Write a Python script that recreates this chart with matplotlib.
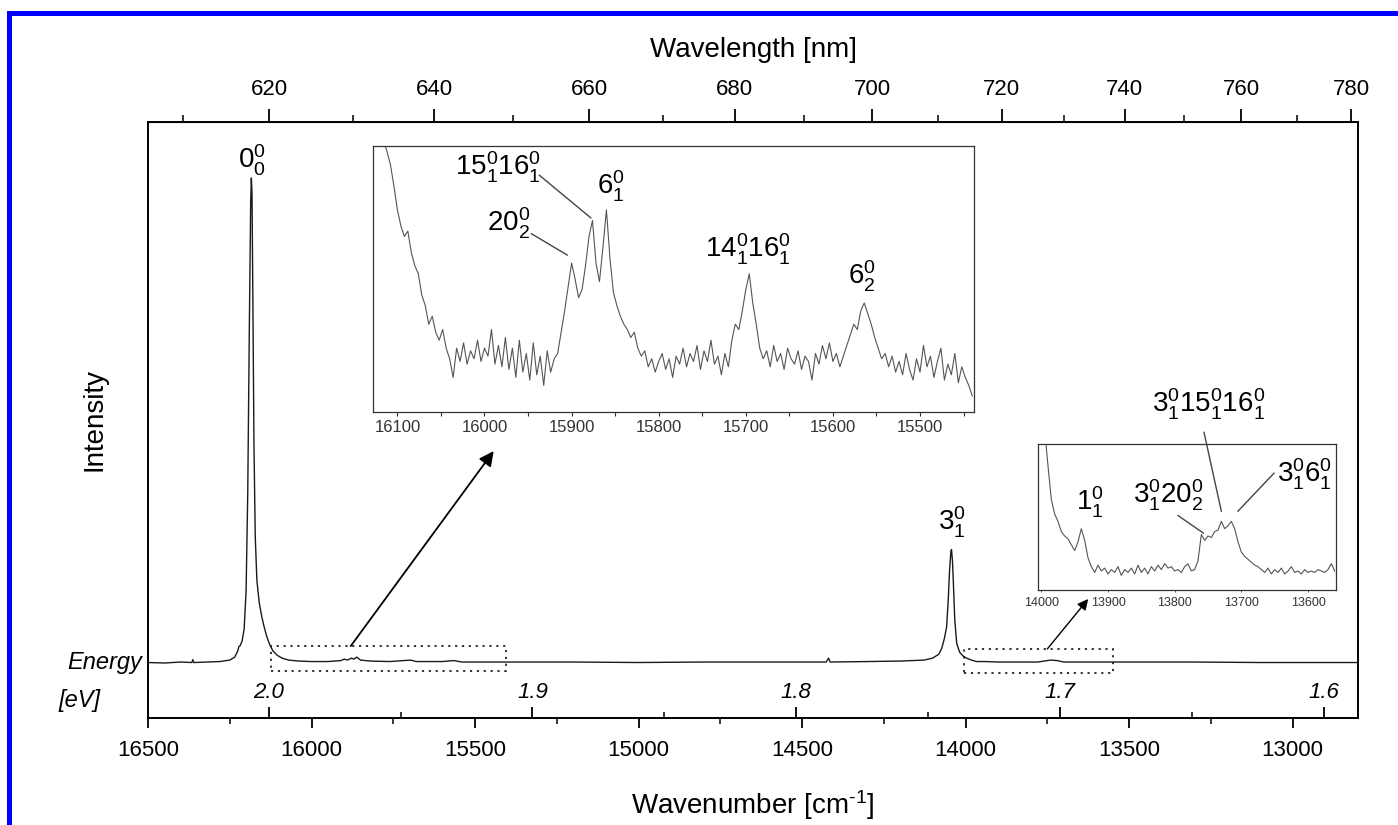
import numpy as np
import matplotlib
matplotlib.use("Agg")
import matplotlib.pyplot as plt
from matplotlib.patches import Rectangle
from matplotlib.ticker import MultipleLocator, FixedLocator

plt.rcParams['font.family'] = ['Liberation Sans', 'DejaVu Sans']
plt.rcParams['mathtext.fontset'] = 'custom'
plt.rcParams['mathtext.rm'] = 'Liberation Sans'
plt.rcParams['mathtext.it'] = 'Liberation Sans:italic'
plt.rcParams['mathtext.default'] = 'regular'

# ---------------- data ----------------
# main spectrum (wavenumber cm-1, intensity normalised to origin band)
main_nu = [16500, 16450, 16400, 16366, 16363, 16360, 16320, 16280, 16250, 16235,
           16226, 16222, 16218, 16212, 16206, 16200, 16195, 16190, 16186, 16184,
           16182, 16179, 16176, 16172, 16167, 16160, 16152, 16145, 16137, 16128,
           16118, 16105, 16090, 16070, 16040, 16000, 15950, 15910, 15900, 15890,
           15878, 15870, 15862, 15850, 15820, 15760, 15697, 15680, 15600, 15565,
           15540, 15400, 15200, 15000, 14800, 14600, 14426, 14419, 14414, 14300,
           14200, 14127, 14101, 14082, 14073, 14065, 14058, 14053, 14049, 14045,
           14043, 14040, 14037, 14033, 14027, 14018, 14007, 13997, 13982, 13966,
           13940, 13900, 13780, 13760, 13740, 13720, 13700, 13500, 13300, 13100,
           12900, 12800]
main_int = [0.001, 0.000, 0.002, 0.001, 0.007, 0.001, 0.002, 0.003, 0.006, 0.012,
            0.024, 0.034, 0.036, 0.046, 0.070, 0.150, 0.350, 0.700, 0.950, 1.000,
            0.970, 0.720, 0.450, 0.260, 0.170, 0.125, 0.095, 0.075, 0.055, 0.038,
            0.025, 0.016, 0.010, 0.006, 0.004, 0.003, 0.003, 0.005, 0.008, 0.006,
            0.010, 0.008, 0.012, 0.006, 0.004, 0.003, 0.006, 0.003, 0.003, 0.005,
            0.002, 0.002, 0.002, 0.001, 0.002, 0.002, 0.002, 0.010, 0.002, 0.003,
            0.004, 0.006, 0.010, 0.018, 0.030, 0.050, 0.074, 0.130, 0.190, 0.230,
            0.234, 0.210, 0.160, 0.089, 0.040, 0.022, 0.014, 0.010, 0.006, 0.003,
            0.003, 0.002, 0.002, 0.004, 0.006, 0.005, 0.002, 0.002, 0.002, 0.001,
            0.001, 0.001]

# inset 1 spectrum (4 cm-1 grid from 16124 down to 15440), arbitrary units
ins1_nu = np.arange(16124, 15436, -4)
ins1_int = [1.08, 1.05, 1.02, 0.98, 0.93, 0.85, 0.76, 0.70, 0.66, 0.68,
            0.60, 0.55, 0.52, 0.44, 0.40, 0.33, 0.36, 0.30, 0.27, 0.31,
            0.24, 0.20, 0.13, 0.24, 0.19, 0.26, 0.18, 0.23, 0.20, 0.27,
            0.19, 0.24, 0.21, 0.31, 0.18, 0.25, 0.17, 0.28, 0.16, 0.24,
            0.13, 0.27, 0.15, 0.22, 0.12, 0.26, 0.14, 0.21, 0.10, 0.23,
            0.15, 0.20, 0.22, 0.30, 0.38, 0.47, 0.56, 0.50, 0.43, 0.46,
            0.55, 0.66, 0.72, 0.56, 0.49, 0.62, 0.76, 0.58, 0.45, 0.40,
            0.36, 0.33, 0.31, 0.28, 0.30, 0.24, 0.21, 0.23, 0.17, 0.20,
            0.15, 0.19, 0.22, 0.16, 0.20, 0.13, 0.21, 0.18, 0.24, 0.17,
            0.22, 0.19, 0.25, 0.16, 0.23, 0.19, 0.27, 0.18, 0.21, 0.14,
            0.22, 0.17, 0.27, 0.33, 0.31, 0.38, 0.46, 0.52, 0.41, 0.33,
            0.24, 0.20, 0.23, 0.17, 0.25, 0.19, 0.22, 0.16, 0.24, 0.20,
            0.18, 0.23, 0.16, 0.21, 0.19, 0.12, 0.22, 0.18, 0.25, 0.20,
            0.26, 0.19, 0.22, 0.17, 0.21, 0.25, 0.29, 0.33, 0.31, 0.38,
            0.41, 0.37, 0.33, 0.28, 0.24, 0.20, 0.22, 0.17, 0.21, 0.15,
            0.19, 0.14, 0.22, 0.16, 0.12, 0.20, 0.15, 0.25, 0.17, 0.21,
            0.13, 0.19, 0.24, 0.12, 0.18, 0.14, 0.22, 0.11, 0.17, 0.13,
            0.10, 0.06]

# inset 2 spectrum (5 cm-1 grid from 13995 down to 13560), arbitrary units
ins2_nu = np.arange(13995, 13555, -5)
ins2_int = [1.10, 0.85, 0.62, 0.52, 0.47, 0.40, 0.37, 0.35, 0.31, 0.27,
            0.33, 0.42, 0.34, 0.22, 0.16, 0.12, 0.17, 0.13, 0.15, 0.11,
            0.14, 0.12, 0.16, 0.10, 0.14, 0.12, 0.15, 0.11, 0.17, 0.12,
            0.15, 0.11, 0.16, 0.13, 0.17, 0.14, 0.18, 0.15, 0.16, 0.13,
            0.14, 0.12, 0.16, 0.18, 0.13, 0.14, 0.20, 0.38, 0.34, 0.37,
            0.36, 0.40, 0.41, 0.47, 0.42, 0.44, 0.47, 0.42, 0.33, 0.26,
            0.23, 0.21, 0.19, 0.17, 0.16, 0.14, 0.12, 0.15, 0.11, 0.14,
            0.12, 0.15, 0.11, 0.13, 0.16, 0.12, 0.13, 0.11, 0.14, 0.12,
            0.13, 0.12, 0.14, 0.13, 0.12, 0.14, 0.18, 0.13]

wl_major = [620, 640, 660, 680, 700, 720, 740, 760, 780]
wl_minor = [610, 630, 650, 670, 690, 710, 730, 750, 770]
ev_major = [2.0, 1.9, 1.8, 1.7, 1.6]
ev_minor = [1.95, 1.85, 1.75, 1.65]
EV_TO_CM = 8065.544

main_labels = [(16183, 1.037, r'$0^0_0$'), (14043, 0.29, r'$3^0_1$')]
ins1_labels = [(15985, 0.92, r'$15^0_1 16^0_1$'), (15855, 0.85, r'$6^0_1$'),
               (15972, 0.71, r'$20^0_2$'), (15697, 0.61, r'$14^0_1 16^0_1$'),
               (15567, 0.51, r'$6^0_2$')]
ins1_leaders = [((15937, 0.89), (15878, 0.73)), ((15946, 0.67), (15905, 0.59))]
ins2_labels = [(13927, 0.60, r'$1^0_1$'), (13809, 0.65, r'$3^0_1 20^0_2$'),
               (13749, 1.27, r'$3^0_1 15^0_1 16^0_1$'), (13605, 0.79, r'$3^0_1 6^0_1$')]
ins2_leaders = [((13795, 0.51), (13757, 0.39)), ((13756, 1.08), (13730, 0.54)),
                ((13651, 0.80), (13705, 0.54))]

# ---------------- figure ----------------
W, H = 1398, 825
fig = plt.figure(figsize=(W / 100, H / 100), dpi=100)
fig.patch.set_facecolor('white')

def fbox(l, t, r, b):
    return [l / W, 1 - b / H, (r - l) / W, (b - t) / H]

ax = fig.add_axes(fbox(148, 122, 1358, 718))
ax.plot(main_nu, main_int, color='#1a1a1a', lw=1.0)
ax.set_xlim(16500, 12800)
ax.set_ylim(-0.1134, 1.1155)
for s in ax.spines.values():
    s.set_linewidth(1.4)
ax.set_yticks([])
ax.xaxis.set_major_locator(MultipleLocator(500))
ax.xaxis.set_minor_locator(MultipleLocator(250))
ax.tick_params(axis='x', which='major', direction='out', length=7, width=1.3,
               labelsize=16, pad=9)
ax.tick_params(axis='x', which='minor', direction='out', length=4, width=1.1)

# top wavelength axis
with np.errstate(divide='ignore'):
    secw = ax.secondary_xaxis('top', functions=(lambda x: 1e7 / x, lambda x: 1e7 / x))
secw.xaxis.set_major_locator(FixedLocator(wl_major))
secw.xaxis.set_minor_locator(FixedLocator(wl_minor))
secw.tick_params(axis='x', which='major', direction='out', length=9.5, width=1.3,
                 labelsize=16, pad=6)
secw.tick_params(axis='x', which='minor', direction='out', length=5, width=1.1)

# energy axis (ticks pointing up from bottom axis, labels inside)
sece = ax.secondary_xaxis('bottom', functions=(lambda x: x / EV_TO_CM, lambda x: x * EV_TO_CM))
sece.xaxis.set_major_locator(FixedLocator(ev_major))
sece.xaxis.set_minor_locator(FixedLocator(ev_minor))
sece.xaxis.set_major_formatter(matplotlib.ticker.FormatStrFormatter('%.1f'))
sece.xaxis.tick_top()
sece.tick_params(axis='x', which='major', direction='out', length=8, width=1.3,
                 labelsize=16, pad=3, labeltop=True, labelbottom=False)
sece.tick_params(axis='x', which='minor', direction='out', length=4.5, width=1.1)
for t in sece.get_xticklabels():
    t.set_fontstyle('italic')
sece.spines['bottom'].set_visible(False)

for nu, y, lab in main_labels:
    ax.text(nu, y, lab, fontsize=20, ha='center', va='center')

# dotted boxes
ins1_xlim = (16128, 15438)
ins2_xlim = (14005, 13558)
for (x0, x1), (y0, y1) in [((16124, 15406), (-0.0165, 0.035)), ((14005, 13549), (-0.021, 0.029))]:
    ax.add_patch(Rectangle((x0, y0), x1 - x0, y1 - y0, fill=False, lw=1.3,
                           ls=(0, (1.2, 2.6)), ec='#222222'))

# arrows
ax.annotate('', xy=(15443, 0.437), xytext=(15880, 0.035),
            arrowprops=dict(arrowstyle='-|>', color='black', lw=1.3, mutation_scale=22,
                            shrinkA=0, shrinkB=0))
ax.annotate('', xy=(13625, 0.132), xytext=(13750, 0.029),
            arrowprops=dict(arrowstyle='-|>', color='black', lw=1.0, mutation_scale=16,
                            shrinkA=0, shrinkB=0))

# inset 1
a1 = fig.add_axes(fbox(373, 146, 974, 412))
a1.plot(ins1_nu, ins1_int, color='#555555', lw=0.8)
a1.set_xlim(*ins1_xlim)
a1.set_ylim(0, 1)
a1.set_yticks([])
a1.xaxis.set_major_locator(MultipleLocator(100))
a1.xaxis.set_minor_locator(MultipleLocator(50))
a1.tick_params(axis='x', which='both', direction='out', length=3, width=0.8,
               labelsize=12, pad=2.5, colors='#333333')
for s in a1.spines.values():
    s.set_linewidth(0.9)
    s.set_color('#333333')
for nu, y, lab in ins1_labels:
    a1.text(nu, y, lab, fontsize=20, ha='center', va='center')
for (p0, p1) in ins1_leaders:
    a1.plot([p0[0], p1[0]], [p0[1], p1[1]], color='#444444', lw=1.0)

# inset 2
a2 = fig.add_axes(fbox(1038, 444, 1336, 590))
a2.plot(ins2_nu, ins2_int, color='#555555', lw=0.8)
a2.set_xlim(*ins2_xlim)
a2.set_ylim(0, 1)
a2.set_yticks([])
a2.xaxis.set_major_locator(MultipleLocator(100))
a2.tick_params(axis='x', which='both', direction='out', length=1.5, width=0.6,
               labelsize=9, pad=3.5, colors='#333333')
for s in a2.spines.values():
    s.set_linewidth(0.9)
    s.set_color('#333333')
for nu, y, lab in ins2_labels:
    a2.text(nu, y, lab, fontsize=20, ha='center', va='center', clip_on=False)
for (p0, p1) in ins2_leaders:
    a2.plot([p0[0], p1[0]], [p0[1], p1[1]], color='#444444', lw=1.0, clip_on=False)

# axis titles and side texts
fig.text(753 / W, 1 - 50 / H, 'Wavelength [nm]', fontsize=20, ha='center', va='center')
fig.text(753 / W, 1 - 805 / H, 'Wavenumber [cm$^{\u2010' + '1}$]', fontsize=20,
         ha='center', va='center')
fig.text(95 / W, 1 - 420 / H, 'Intensity', fontsize=20, rotation=90, ha='center', va='center')
fig.text(105 / W, 1 - 663 / H, 'Energy', fontsize=17, style='italic', ha='center', va='center')
fig.text(80 / W, 1 - 701 / H, '[eV]', fontsize=17, style='italic', ha='center', va='center')

# blue frame (top and left)
fig.add_artist(Rectangle((7 / W, 1 - 16 / H), 1 - 7 / W, 5 / H, transform=fig.transFigure,
                         color='#0000ff', lw=0))
fig.add_artist(Rectangle((7 / W, 0), 5 / W, 1 - 11 / H, transform=fig.transFigure,
                         color='#0000ff', lw=0))

fig.savefig('out.png', dpi=100, facecolor='white')
